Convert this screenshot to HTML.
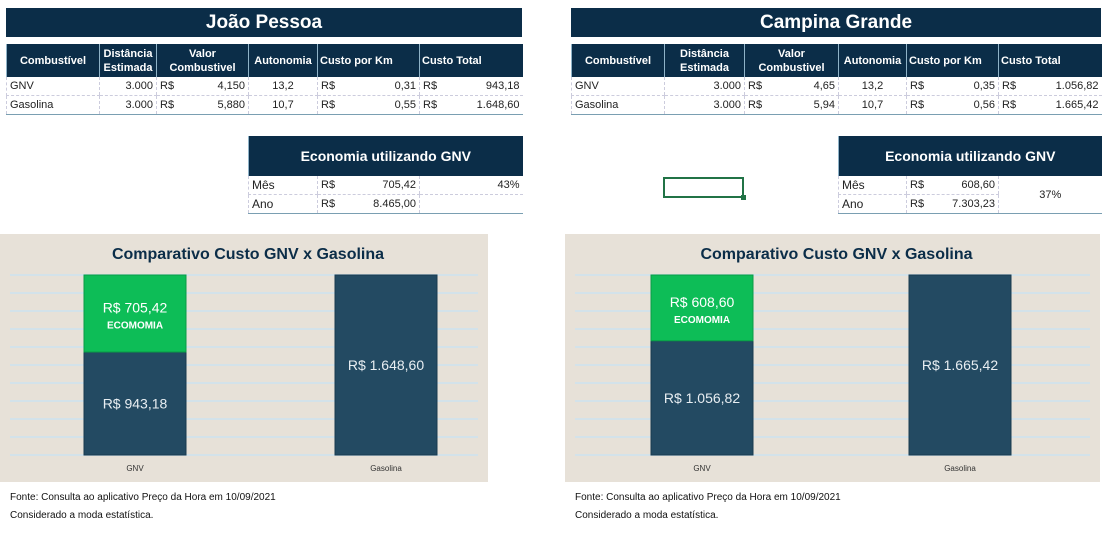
<!DOCTYPE html>
<html><head><meta charset="utf-8"><style>
body{margin:0;width:1117px;height:539px;background:#fff;position:relative;overflow:hidden;font-family:"Liberation Sans",sans-serif;}
.abs{position:absolute;box-sizing:border-box}
.title{background:#0b2d48;color:#fff;font-weight:bold;font-size:19px;text-align:center;line-height:29px;height:29px}
table{border-collapse:collapse;position:absolute;font-size:11px;color:#222;table-layout:fixed}
th{background:#0b2d48;color:#fff;font-weight:bold;font-size:11px;border-left:1px solid #8fb3c8;height:33px;padding:0 2px;line-height:14px}
td{height:18px;padding:0 3px;border-left:1px dashed #ccd;border-bottom:1px dashed #ccd;white-space:nowrap}
.r{text-align:right}.c{text-align:center}
.rs{display:flex;justify-content:space-between}
tbody tr:last-child td{border-bottom:1px solid #7a9fb2}
.econ th{height:40px;font-size:14px}
.foot{font-size:10px;color:#111;line-height:18px}
</style></head><body>
<div class="abs title" style="left:6px;top:8px;width:516px">João Pessoa</div>
<table style="left:6px;top:44px;width:516px">
<colgroup><col style="width:93px"><col style="width:57px"><col style="width:92px"><col style="width:69px"><col style="width:102px"><col style="width:103px"></colgroup>
<thead><tr><th>Combustível</th><th>Distância Estimada</th><th>Valor Combustivel</th><th>Autonomia</th><th style="text-align:left">Custo por Km</th><th style="text-align:left">Custo Total</th></tr></thead>
<tbody><tr><td>GNV</td><td class="r">3.000</td><td><div class="rs"><span>R$</span><span>4,150</span></div></td><td class="c">13,2</td><td><div class="rs"><span>R$</span><span>0,31</span></div></td><td><div class="rs"><span>R$</span><span>943,18</span></div></td></tr>
<tr><td>Gasolina</td><td class="r">3.000</td><td><div class="rs"><span>R$</span><span>5,880</span></div></td><td class="c">10,7</td><td><div class="rs"><span>R$</span><span>0,55</span></div></td><td><div class="rs"><span>R$</span><span>1.648,60</span></div></td></tr></tbody></table>
<table class="econ" style="left:248px;top:136px;width:274px">
<colgroup><col style="width:69px"><col style="width:102px"><col style="width:103px"></colgroup>
<thead><tr><th colspan="3">Economia utilizando GNV</th></tr></thead>
<tbody><tr><td style="font-size:12px">Mês</td><td><div class="rs"><span>R$</span><span>705,42</span></div></td><td class="r">43%</td></tr>
<tr><td style="font-size:12px">Ano</td><td><div class="rs"><span>R$</span><span>8.465,00</span></div></td><td></td></tr></tbody></table>

<div class="abs title" style="left:571px;top:8px;width:530px">Campina Grande</div>
<table style="left:571px;top:44px;width:530px">
<colgroup><col style="width:93px"><col style="width:80px"><col style="width:94px"><col style="width:68px"><col style="width:92px"><col style="width:103px"></colgroup>
<thead><tr><th>Combustível</th><th>Distância Estimada</th><th>Valor Combustivel</th><th>Autonomia</th><th style="text-align:left">Custo por Km</th><th style="text-align:left">Custo Total</th></tr></thead>
<tbody><tr><td>GNV</td><td class="r">3.000</td><td><div class="rs"><span>R$</span><span>4,65</span></div></td><td class="c">13,2</td><td><div class="rs"><span>R$</span><span>0,35</span></div></td><td><div class="rs"><span>R$</span><span>1.056,82</span></div></td></tr>
<tr><td>Gasolina</td><td class="r">3.000</td><td><div class="rs"><span>R$</span><span>5,94</span></div></td><td class="c">10,7</td><td><div class="rs"><span>R$</span><span>0,56</span></div></td><td><div class="rs"><span>R$</span><span>1.665,42</span></div></td></tr></tbody></table>
<table class="econ" style="left:838px;top:136px;width:263px">
<colgroup><col style="width:68px"><col style="width:92px"><col style="width:103px"></colgroup>
<thead><tr><th colspan="3">Economia utilizando GNV</th></tr></thead>
<tbody><tr><td style="font-size:12px">Mês</td><td><div class="rs"><span>R$</span><span>608,60</span></div></td><td class="c" rowspan="2" style="border-bottom:1px solid #7a9fb2">37%</td></tr>
<tr><td style="font-size:12px">Ano</td><td><div class="rs"><span>R$</span><span>7.303,23</span></div></td></tr></tbody></table>
<div class="abs" style="left:663px;top:177px;width:81px;height:21px;border:2px solid #217346"></div>
<div class="abs" style="left:741px;top:195px;width:5px;height:5px;background:#217346"></div>

<svg class="abs" style="left:0;top:0" width="1117" height="539" id="charts"></svg>
<div class="abs foot" style="left:10px;top:489px">Fonte: Consulta ao aplicativo Preço da Hora em 10/09/2021<br>Considerado a moda estatística.</div>
<div class="abs foot" style="left:575px;top:489px">Fonte: Consulta ao aplicativo Preço da Hora em 10/09/2021<br>Considerado a moda estatística.</div>
<script>
const categories=["GNV","Gasolina"];
const jpBase=[943.18,1648.60];
const jpSaving=[705.42,0];
const jpLabels=["R$ 943,18","R$ 1.648,60"];
const jpSavingLabel="R$ 705,42";
const cgBase=[1056.82,1665.42];
const cgSaving=[608.60,0];
const cgLabels=["R$ 1.056,82","R$ 1.665,42"];
const cgSavingLabel="R$ 608,60";
const NS="http://www.w3.org/2000/svg";
const svg=document.getElementById('charts');
function mk(t,a,p){const e=document.createElementNS(NS,t);for(const k in a)e.setAttribute(k,a[k]);(p||svg).appendChild(e);return e;}
function chart(px,pw,barX,base,saving,labels,savLabel,nm){
  const g=mk('g',{});
  
  
  const bg=mk('rect',{x:px,y:234,width:pw,height:248,fill:'#e7e1d8'},g);
  
  
  const top=275,bot=455,bw=102;
  for(let i=0;i<=10;i++){const l=mk('line',{x1:px+10,x2:px+pw-10,y1:bot-i*18,y2:bot-i*18,stroke:'#d3e2ea','stroke-width':2},g);
    
    }
  const t=mk('text',{x:px+pw/2+4,y:259,'text-anchor':'middle','font-size':16,'font-weight':'bold',fill:'#0b2d48'},g);t.textContent='Comparativo Custo GNV x Gasolina';
  
  
  const mx=Math.max(...base.map((b,i)=>b+saving[i]));
  const y=v=>bot-(v/mx)*(bot-top);
  categories.forEach((c,i)=>{
    const x=barX[i];
    const r=mk('rect',{x:x,y:y(base[i]),width:bw,height:bot-y(base[i]),fill:'#234a62',stroke:'#1a3a4f'},g);
    
    
    const tl=mk('text',{x:x+bw/2,y:(y(base[i])+bot)/2+5,'text-anchor':'middle','font-size':14,fill:'#e8eef2'},g);tl.textContent=labels[i];
    
    
    if(saving[i]>0){
      const y1=y(base[i]+saving[i]),y0=y(base[i]);
      const s=mk('rect',{x:x,y:y1,width:bw,height:y0-y1,fill:'#0dbd57',stroke:'#0a9a46'},g);
      
      
      const st=mk('text',{x:x+bw/2,y:(y1+y0)/2-1,'text-anchor':'middle','font-size':14,fill:'#fff'},g);st.textContent=savLabel;
      
      
      const e=mk('text',{x:x+bw/2,y:(y1+y0)/2+15,'text-anchor':'middle','font-size':10,'font-weight':'bold',fill:'#fff'},g);e.textContent='ECOMOMIA';
      
      
    }
    const cl=mk('text',{x:x+bw/2,y:471,'text-anchor':'middle','font-size':8,fill:'#333'},g);cl.textContent=c;
    
    
  });
}
chart(0,488,[84,335],jpBase,jpSaving,jpLabels,jpSavingLabel,'chart-joao-pessoa');
chart(565,535,[651,909],cgBase,cgSaving,cgLabels,cgSavingLabel,'chart-campina-grande');
</script>
</body></html>
